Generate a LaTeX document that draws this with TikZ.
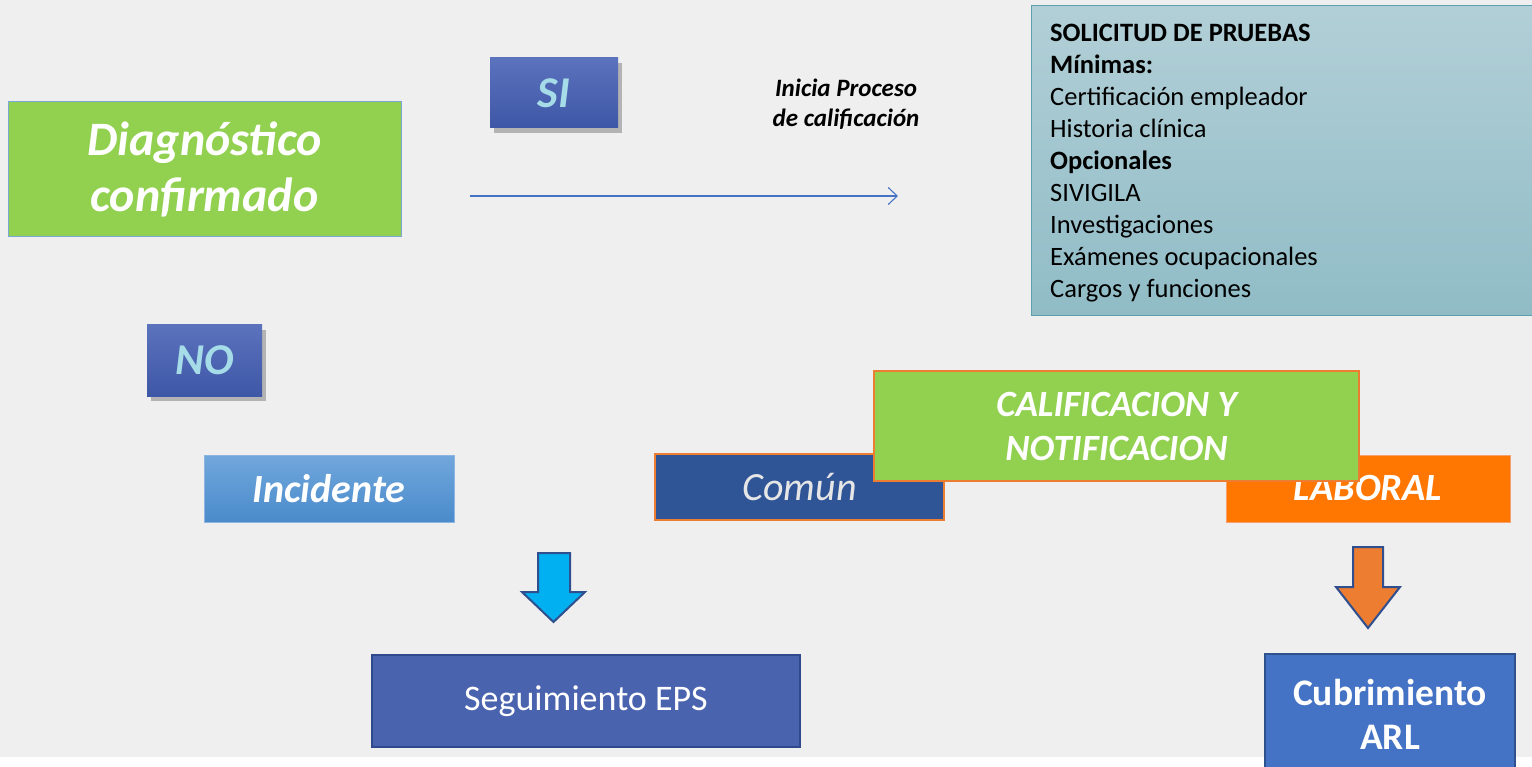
\documentclass[tikz,border=0pt]{standalone}
\usepackage{fontspec}
\setmainfont{Carlito}
\usetikzlibrary{shadows,arrows.meta}
\definecolor{bg}{HTML}{EFEFEF}
\definecolor{grn}{HTML}{92D050}
\definecolor{diagbd}{HTML}{7BA7D7}
\definecolor{sitop}{HTML}{5B72BD}
\definecolor{sibot}{HTML}{3E57A6}
\definecolor{soltop}{HTML}{B2CFD7}
\definecolor{solbot}{HTML}{90BCC6}
\definecolor{solbd}{HTML}{5C9FAE}
\definecolor{inctop}{HTML}{71A7DC}
\definecolor{incbot}{HTML}{4A8BCB}
\definecolor{incbd}{HTML}{8DB4E2}
\definecolor{comfill}{HTML}{2F5597}
\definecolor{orbd}{HTML}{ED7D31}
\definecolor{labfill}{HTML}{FF7700}
\definecolor{labbd}{HTML}{F4A070}
\definecolor{segfill}{HTML}{4A63AE}
\definecolor{segbd}{HTML}{2F4A8C}
\definecolor{cubfill}{HTML}{4472C4}
\definecolor{cubbd}{HTML}{2F528F}
\definecolor{linec}{HTML}{4472C4}
\definecolor{sitext}{HTML}{A6DCE8}
\definecolor{arrbd}{HTML}{2F4F8F}
\definecolor{arrblue}{HTML}{00B0F0}
\definecolor{arrorange}{HTML}{ED7D31}
\definecolor{comtext}{HTML}{E6E6E6}
\tikzset{
  box/.style={rectangle, inner sep=0pt, align=center, line width=1pt},
  bigtxt/.style={font=\fontsize{48}{56}\selectfont\bfseries\itshape, text=white},
  midtxt/.style={font=\fontsize{38.5}{44}\selectfont\bfseries\itshape, text=white},
  sibox/.style={box, top color=sitop, bottom color=sibot, draw=none,
    drop shadow={shadow xshift=4pt, shadow yshift=-5pt, opacity=0.25, fill=black},
    font=\fontsize{44}{50}\selectfont\bfseries\itshape, text=sitext},
  flow/.style={draw=linec, line width=1.1pt, -{Straight Barb[length=9pt,width=17pt,line width=1.1pt]}},
  downarrow/.style={draw=arrbd, line width=2pt, line join=miter}
}
\begin{document}
\begin{tikzpicture}[x=1pt,y=-1pt]
\clip (0,0) rectangle (1532,767);
\fill[bg] (0,0) rectangle (1532,757);
\fill[white] (0,757) rectangle (1532,767);

% Diagnóstico
\node[box, fill=grn, draw=diagbd, minimum width=393pt, minimum height=135pt, bigtxt] (diag) at (204.5,169.5) {\raisebox{-2pt}{Diagnóstico}\\\raisebox{-2pt}{confirmado}};

% SI / NO
\node[sibox, minimum width=128pt, minimum height=70pt] (si) at (554,93) {SI};
\node[sibox, minimum width=115pt, minimum height=71pt] (no) at (204.5,360.5) {NO};

% Inicia proceso
\node[align=center, inner sep=0pt, font=\fontsize{25}{30}\selectfont\bfseries\itshape] (inicia) at (846,104) {Inicia Proceso\\de calificación};

% connector
\coordinate (s) at (470,196);
\coordinate (e) at (898,196);
\draw[flow] (s) -- (e);

% Solicitud box
\node[box, top color=soltop, bottom color=solbot, draw=solbd, minimum width=520pt, minimum height=310pt] (sol) at (1291,161) {};
\node[anchor=north west, inner sep=0pt, align=left, font=\fontsize{26.5}{32}\selectfont] (soltext) at (1050,24) {\textbf{SOLICITUD DE PRUEBAS}\\\textbf{Mínimas:}\\Certificación empleador\\Historia clínica\\\textbf{Opcionales}\\SIVIGILA\\Investigaciones\\Exámenes ocupacionales\\Cargos y funciones};

% Incidente
\node[box, top color=inctop, bottom color=incbot, draw=incbd, minimum width=250pt, minimum height=67pt, font=\fontsize{40}{44}\selectfont\bfseries\itshape, text=white] (inc) at (329,488.5) {Incidente};

% Común
\node[box, fill=comfill, draw=orbd, line width=1.5pt, minimum width=289pt, minimum height=66pt, font=\fontsize{40}{44}\selectfont\itshape, text=comtext] (com) at (799.5,487) {Común};

% Laboral
\node[box, fill=labfill, draw=labbd, minimum width=284pt, minimum height=67pt, midtxt] (lab) at (1368,488.5) {LABORAL};

% Calificación
\node[box, fill=grn, draw=orbd, line width=1.5pt, minimum width=485pt, minimum height=110pt, font=\fontsize{37}{44}\selectfont\bfseries\itshape, text=white] (cal) at (1116.5,426) {CALIFICACION Y\\NOTIFICACION};

% down arrows
\draw[downarrow, fill=arrblue] (538,553) -- (570,553) -- (570,592) -- (585,592) -- (553.5,622) -- (522,592) -- (538,592) -- cycle;
\draw[downarrow, fill=arrorange] (1353,547) -- (1383,547) -- (1383,587) -- (1400,587) -- (1368,628) -- (1336,587) -- (1353,587) -- cycle;

% Seguimiento
\node[box, fill=segfill, draw=segbd, line width=2pt, minimum width=428pt, minimum height=92pt, font=\fontsize{36}{42}\selectfont, text=white] (seg) at (586,701) {Seguimiento EPS};

% Cubrimiento
\node[box, fill=cubfill, draw=cubbd, line width=2pt, minimum width=250pt, minimum height=122pt, font=\fontsize{37.5}{44}\selectfont\bfseries, text=white] (cub) at (1390,714.5) {Cubrimiento\\ARL};
\end{tikzpicture}
\end{document}
